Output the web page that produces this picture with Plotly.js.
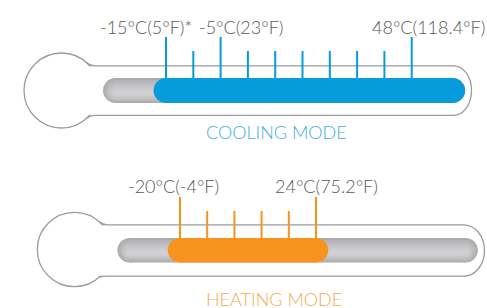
<!DOCTYPE html>
<html>
<head>
<meta charset="utf-8">
<script src="https://cdn.plot.ly/plotly-3.0.1.min.js"></script>
<style>html,body{margin:0;padding:0;background:#fff;}#chart{width:487px;height:308px;}</style>
</head>
<body>
<div id="chart"></div>
<script>
// ---- data ----
const coolingTicks = [0, 1, 2, 3, 4, 5, 6, 7, 8, 9];
const coolingLabels = ['-15°C(5°F)*', '', '-5°C(23°F)', '', '', '', '', '', '', '48°C(118.4°F)'];
const coolingRange = [0, 10.5];
const heatingTicks = [0, 1, 2, 3, 4, 5];
const heatingLabels = ['-20°C(-4°F)', '', '', '', '', '24°C(75.2°F)'];
const heatingRange = [0, 5];
const trackRange = [-1.85, 10.5];
const modeTitles = ['COOLING MODE', 'HEATING MODE'];

// ---- style ----
const BLUE = '#069bda', ORANGE = '#f7941d', TEXT = '#58595b', OUTLINE = '#9c9c9e';
const modes = [
  {xref: 'x', ticks: coolingTicks, labels: coolingLabels, range: coolingRange, color: BLUE,
   titleColor: '#42ade2', barTop: 78, barBot: 103, majorTop: 37, minorTop: 51,
   labelY: 26.5, labelShift: [-20, 0, 20, 0, 0, 0, 0, 0, 0, 17], titleX: 276, titleY: 131.5,
   bulb: {cx: 61.5, cy: 90.5, r: 37.5}, tube: {top: 65.8, bot: 115.3, right: 471.5, rx: 18}},
  {xref: 'x2', ticks: heatingTicks, labels: heatingLabels, range: heatingRange, color: ORANGE,
   titleColor: '#f8a850', barTop: 238, barBot: 262.5, majorTop: 197, minorTop: 211,
   labelY: 185.5, labelShift: [-7, 0, 0, 0, 0, 10], titleX: 274, titleY: 298.5,
   bulb: {cx: 74.5, cy: 249.5, r: 37.2}, tube: {top: 224.8, bot: 276.2, right: 484.5, rx: 21}}
];
const trackShades = [
  {top: 0, bot: 0, color: '#acacae'},
  {top: 0.08, bot: 0.05, color: '#b5b5b7'},
  {top: 0.18, bot: 0.11, color: '#bdbdbf'},
  {top: 0.28, bot: 0.17, color: '#c4c4c6'},
  {top: 0.38, bot: 0.23, color: '#cacacc'},
  {top: 0.47, bot: 0.29, color: '#cfcfd1'}
];

const traces = [];
const shapes = [];
const annotations = [];

function roundedBar(xref, a, b, y0, y1, color) {
  const r = (y1 - y0) / 2;
  shapes.push({type: 'rect', xref: xref, yref: 'y', x0: a, x1: b, y0: y0, y1: y1,
    fillcolor: color, line: {width: 0}, layer: 'below'});
  [a, b].forEach(function (e) {
    shapes.push({type: 'circle', xref: xref, yref: 'y', xsizemode: 'pixel', xanchor: e,
      x0: -r, x1: r, y0: y0, y1: y1, fillcolor: color, line: {width: 0}, layer: 'below'});
  });
}

modes.forEach(function (m) {
  // thermometer outline (decoration, pixel axis x3)
  const b = m.bulb, t = m.tube;
  shapes.push({type: 'circle', xref: 'x3', yref: 'y', x0: b.cx - b.r, x1: b.cx + b.r,
    y0: b.cy - b.r, y1: b.cy + b.r, fillcolor: '#fff', line: {color: OUTLINE, width: 1.3}, layer: 'below'});
  const jx = b.cx + Math.sqrt(b.r * b.r - Math.pow(b.cy - t.top, 2));
  const sx = jx - 3;
  const sTop = b.cy - Math.sqrt(b.r * b.r - Math.pow(sx - b.cx, 2));
  const sBot = b.cy + Math.sqrt(b.r * b.r - Math.pow(sx - b.cx, 2));
  shapes.push({type: 'rect', xref: 'x3', yref: 'y', x0: sx, x1: b.cx + b.r + 3,
    y0: t.top + 0.7, y1: t.bot - 0.7, fillcolor: '#fff', line: {width: 0}, layer: 'below'});
  const ex = t.right - t.rx, mid = (t.top + t.bot) / 2, h = (t.bot - t.top) / 2;
  const k = 0.56;
  const p = 'M ' + sx + ',' + sTop + ' Q ' + (jx + 0.5) + ',' + t.top + ' ' + (jx + 5) + ',' + t.top +
    ' L ' + ex + ',' + t.top +
    ' C ' + (ex + t.rx * k) + ',' + t.top + ' ' + t.right + ',' + (mid - h * k) + ' ' + t.right + ',' + mid +
    ' C ' + t.right + ',' + (mid + h * k) + ' ' + (ex + t.rx * k) + ',' + t.bot + ' ' + ex + ',' + t.bot +
    ' L ' + (jx + 5) + ',' + t.bot + ' Q ' + (jx + 0.5) + ',' + t.bot + ' ' + sx + ',' + sBot;
  shapes.push({type: 'path', xref: 'x3', yref: 'y', path: p, line: {color: OUTLINE, width: 1.3}, layer: 'below'});

  // gray track with soft vertical shading
  const hgt = m.barBot - m.barTop;
  trackShades.forEach(function (s) {
    roundedBar(m.xref, trackRange[0], trackRange[1], m.barTop + hgt * s.top, m.barBot - hgt * s.bot, s.color);
  });
  // coloured range bar
  roundedBar(m.xref, m.range[0], m.range[1], m.barTop, m.barBot, m.color);

  // ticks
  const tx = [], ty = [];
  m.ticks.forEach(function (v, i) {
    tx.push(v, v, null);
    ty.push(m.labels[i] ? m.majorTop : m.minorTop, m.barTop + 1, null);
  });
  traces.push({type: 'scatter', mode: 'lines', x: tx, y: ty, xaxis: m.xref, yaxis: 'y',
    line: {color: m.color, width: 2}, hoverinfo: 'skip', showlegend: false});

  // labels
  m.ticks.forEach(function (v, i) {
    if (!m.labels[i]) return;
    annotations.push({xref: m.xref, yref: 'y', x: v, y: m.labelY, text: m.labels[i],
      showarrow: false, xanchor: 'center', yanchor: 'middle', xshift: m.labelShift[i],
      font: {family: 'Lato, sans-serif', size: 18, color: TEXT, weight: 300}});
  });
});

modes.forEach(function (m, i) {
  annotations.push({xref: 'x3', yref: 'y', x: m.titleX, y: m.titleY, text: modeTitles[i],
    showarrow: false, xanchor: 'center', yanchor: 'middle',
    font: {family: 'Lato, sans-serif', size: 18, color: m.titleColor, weight: 300}});
});

const layout = {
  width: 487, height: 308, margin: {l: 0, r: 0, t: 0, b: 0},
  paper_bgcolor: '#fff', plot_bgcolor: '#fff', showlegend: false,
  xaxis: {range: [-6.081, 11.758], visible: false, fixedrange: true},
  xaxis2: {range: [-6.618, 11.287], visible: false, overlaying: 'x', fixedrange: true},
  xaxis3: {range: [0, 487], visible: false, overlaying: 'x', fixedrange: true},
  yaxis: {range: [308, 0], visible: false, fixedrange: true},
  shapes: shapes, annotations: annotations
};
traces.push({type: 'scatter', mode: 'markers', x: [], y: [], xaxis: 'x3', yaxis: 'y', showlegend: false});
Plotly.newPlot('chart', traces, layout, {displayModeBar: false, staticPlot: true});
</script>
</body>
</html>
